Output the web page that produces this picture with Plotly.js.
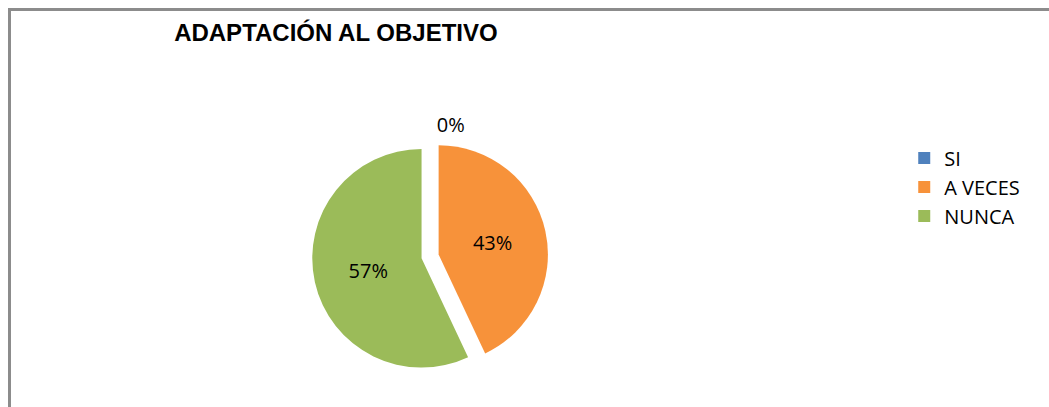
<!DOCTYPE html>
<html>
<head>
<meta charset="utf-8">
<script src="https://cdn.plot.ly/plotly-3.0.1.min.js"></script>
<style>
  html, body { margin: 0; padding: 0; background: #fff; }
  #wrap { position: relative; width: 1049px; height: 407px; overflow: hidden; }
  #frame { position: absolute; left: 8px; top: 8px; width: 1100px; height: 500px;
           border-top: 3px solid #8c8c8c; border-left: 3px solid #8c8c8c; pointer-events: none; }
  #chart { position: absolute; left: 0; top: 0; width: 1049px; height: 407px; }
</style>
</head>
<body>
<div id="wrap">
  <div id="chart"></div>
  <div id="frame"></div>
</div>
<script>
const categories = ['SI', 'A VECES', 'NUNCA'];
const values = [0, 43, 57];
const sliceColors = ['#4F81BD', '#F7923A', '#9BBB59'];
const chartTitle = 'ADAPTACIÓN AL OBJETIVO';

const trace = {
  type: 'pie',
  labels: categories,
  values: values,
  sort: false,
  direction: 'clockwise',
  rotation: 0,
  pull: [0.08, 0.08, 0.08],
  marker: { colors: sliceColors, line: { color: '#ffffff', width: 0 } },
  textinfo: 'percent',
  texttemplate: '%{percent:.0%}',
  textposition: ['outside', 'inside', 'inside'],
  insidetextorientation: 'horizontal',
  textfont: { family: 'Open Sans, Liberation Sans, sans-serif', size: 20, color: '#000000' },
  outsidetextfont: { family: 'Open Sans, Liberation Sans, sans-serif', size: 20, color: '#000000' },
  domain: { x: [0.29, 0.53], y: [0.08, 0.66] },
  hoverinfo: 'label+percent'
};

const layout = {
  width: 1049,
  height: 407,
  margin: { l: 0, r: 0, t: 0, b: 0 },
  paper_bgcolor: '#ffffff',
  title: {
    text: '<b>' + chartTitle + '</b>',
    x: 0.166, xanchor: 'left',
    y: 0.92, yanchor: 'middle',
    font: { family: 'Liberation Sans, Arial, sans-serif', size: 24, color: '#000000' }
  },
  showlegend: true,
  legend: {
    x: 0.862, xanchor: 'left',
    y: 0.66, yanchor: 'top',
    font: { family: 'Open Sans, Liberation Sans, sans-serif', size: 20, color: '#000000' },
    bgcolor: 'rgba(0,0,0,0)',
    traceorder: 'normal'
  }
};

Plotly.newPlot('chart', [trace], layout, { displayModeBar: false, staticPlot: true });
</script>
</body>
</html>
